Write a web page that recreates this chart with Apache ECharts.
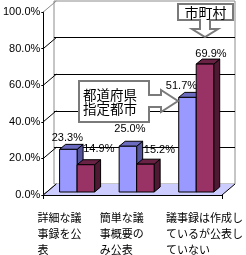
<!DOCTYPE html>
<html><head><meta charset="utf-8">
<script src="https://cdn.jsdelivr.net/npm/echarts@6/dist/echarts.min.js"></script>
<style>html,body{margin:0;padding:0;background:#fff}#c{width:246px;height:255px}</style>
</head><body><div id="c"></div>
<script>
// ---- data ----
const categories = ['詳細な議事録を公表', '簡単な議事概要のみ公表', '議事録は作成しているが公表していない'];
const seriesNames = ['都道府県指定都市', '市町村'];
const prefValues = [23.3, 25.0, 51.7];
const muniValues = [14.9, 15.2, 69.9];
const yTicks = [0, 20, 40, 60, 80, 100];

// ---- layout / style constants ----
const FRONT = {left: 41, top: 12, width: 181, height: 183};
const DEPTH = [13, -11];
const BAR_W = 17.5, BAR_DX = 4, BAR_DY = -3;
const BOX_D = [6, -5];
const WRAP = [4, 4, 7];
const CAT_PAD = [0, 2, 8];
const LABEL_OFF = [
  [[-1, -11], [2, -17], [-6, -11]],
  [[13, -16], [14, -14], [6, -10]]
];
const COLORS = [
  {front: '#9999FF', top: '#6b6bc0', side: '#55559e'},
  {front: '#993366', top: '#6a2244', side: '#4f1833'}
];
const NUM_FONT = '11px "Liberation Sans", Arial, sans-serif';
const JP = '"Noto Sans CJK JP", sans-serif';

function wrap(s, n) {
  const out = [];
  for (let i = 0; i < s.length; i += n) out.push(s.slice(i, i + n));
  return out;
}

function barRender(si) {
  const vals = si === 0 ? prefValues : muniValues;
  return function (params, api) {
    const i = api.value(0), v = api.value(1);
    const top = api.coord([i, v]);
    const base = api.coord([i, 0]);
    const cx = base[0];
    const x = cx + BAR_DX + (si === 0 ? -BAR_W : 0);
    const yT = top[1] + BAR_DY, yB = base[1] + BAR_DY;
    const w = BAR_W, dx = BOX_D[0], dy = BOX_D[1];
    const c = COLORS[si];
    const st = (f) => ({fill: f, stroke: '#000', lineWidth: 1});
    const off = LABEL_OFF[si][i];
    return {
      type: 'group',
      children: [
        {type: 'polygon', shape: {points: [[x + w, yT], [x + w + dx, yT + dy], [x + w + dx, yB + dy], [x + w, yB]]}, style: st(c.side)},
        {type: 'polygon', shape: {points: [[x, yT], [x + w, yT], [x + w + dx, yT + dy], [x + dx, yT + dy]]}, style: st(c.top)},
        {type: 'rect', shape: {x: x, y: yT, width: w, height: yB - yT}, style: st(c.front)},
        {type: 'text', style: {text: vals[i].toFixed(1) + '%', x: x + w / 2 + off[0], y: yT + off[1],
          align: 'center', verticalAlign: 'middle', textAlign: 'center', textVerticalAlign: 'middle',
          font: NUM_FONT, fill: '#000'}}
      ]
    };
  };
}

const chart = echarts.init(document.getElementById('c'), null, {renderer: 'canvas'});

const option = {
  animation: false,
  backgroundColor: '#fff',
  grid: [
    {left: FRONT.left, top: FRONT.top, width: FRONT.width, height: FRONT.height},
    {left: FRONT.left + DEPTH[0], top: FRONT.top + DEPTH[1], width: FRONT.width, height: FRONT.height,
      show: true, borderColor: '#8c8c8c', borderWidth: 1, backgroundColor: '#fff'},
    {left: FRONT.left - 33.5, top: FRONT.top, width: FRONT.width, height: FRONT.height}
  ],
  xAxis: [
    {type: 'category', gridIndex: 0, data: categories, boundaryGap: true,
      axisLine: {lineStyle: {color: '#000', width: 1}},
      axisTick: {show: true, length: 4, lineStyle: {color: '#000'}},
      axisLabel: {show: false}, splitLine: {show: false}},
    {type: 'category', gridIndex: 1, data: categories, show: false},
    {type: 'category', gridIndex: 2, data: categories,
      axisLine: {show: false}, axisTick: {show: false}, splitLine: {show: false},
      axisLabel: {
        show: true, interval: 0, align: 'left', verticalAlign: 'top', margin: 16,
        formatter: function (val, idx) {
          return wrap(val, WRAP[idx]).map(l => '{p' + idx + '|' + l + '}').join('\n');
        },
        rich: {
          p0: {fontSize: 11, fontFamily: JP, color: '#000', lineHeight: 16, padding: [0, 0, 0, CAT_PAD[0]]},
          p1: {fontSize: 11, fontFamily: JP, color: '#000', lineHeight: 16, padding: [0, 0, 0, CAT_PAD[1]]},
          p2: {fontSize: 11, fontFamily: JP, color: '#000', lineHeight: 16, padding: [0, 0, 0, CAT_PAD[2]]}
        }
      }}
  ],
  yAxis: [
    {type: 'value', gridIndex: 0, min: yTicks[0], max: yTicks[yTicks.length - 1], interval: 20,
      axisLine: {show: true, lineStyle: {color: '#000', width: 1}},
      axisTick: {show: true, length: 2, lineStyle: {color: '#000'}},
      axisLabel: {margin: 3, formatter: v => v.toFixed(1) + '%', color: '#000', fontSize: 11,
        fontFamily: '"Liberation Sans", Arial, sans-serif'},
      splitLine: {show: false}},
    {type: 'value', gridIndex: 1, min: yTicks[0], max: yTicks[yTicks.length - 1], interval: 20,
      axisLine: {show: false}, axisTick: {show: false}, axisLabel: {show: false},
      splitLine: {show: true, showMinLine: false, showMaxLine: false, lineStyle: {color: '#000', width: 1}}},
    {type: 'value', gridIndex: 2, min: 0, max: 100, show: false}
  ],
  series: [
    {
      type: 'custom', name: 'walls', xAxisIndex: 0, yAxisIndex: 0, z: 1, silent: true,
      data: yTicks.map(v => [0, v]),
      encode: {x: 0, y: 1},
      renderItem: function (params, api) {
        const v = api.value(1);
        const y = api.coord([0, v])[1];
        const x0 = params.coordSys.x;
        return {type: 'line', shape: {x1: x0, y1: y, x2: x0 + DEPTH[0], y2: y + DEPTH[1]},
          style: {stroke: v === 100 ? '#8c8c8c' : '#000', lineWidth: 1}};
      }
    },
    {
      type: 'custom', name: 'floor', xAxisIndex: 0, yAxisIndex: 0, z: 1, silent: true,
      data: [[0, 0]],
      encode: {x: 0, y: 1},
      renderItem: function (params, api) {
        const cs = params.coordSys;
        const yb = api.coord([0, 0])[1];
        const xl = cs.x, xr = cs.x + cs.width;
        return {type: 'group', children: [
          {type: 'polygon', shape: {points: [[xl, yb], [xr, yb], [xr + DEPTH[0], yb + DEPTH[1]], [xl + DEPTH[0], yb + DEPTH[1]]]},
            style: {fill: '#CCCCFF', stroke: null}},
          {type: 'line', shape: {x1: xr, y1: yb, x2: xr + DEPTH[0], y2: yb + DEPTH[1]}, style: {stroke: '#000', lineWidth: 1}},
          {type: 'line', shape: {x1: xl, y1: yb, x2: xl + DEPTH[0], y2: yb + DEPTH[1]}, style: {stroke: '#000', lineWidth: 1}}
        ]};
      }
    },
    {
      type: 'custom', name: seriesNames[0], xAxisIndex: 0, yAxisIndex: 0, z: 3,
      data: prefValues.map((v, i) => [i, v]), encode: {x: 0, y: 1},
      renderItem: barRender(0)
    },
    {
      type: 'custom', name: seriesNames[1], xAxisIndex: 0, yAxisIndex: 0, z: 4,
      data: muniValues.map((v, i) => [i, v]), encode: {x: 0, y: 1},
      renderItem: barRender(1)
    }
  ],
  graphic: [
    {type: 'polygon', z: 100,
      shape: {points: [[79, 81], [149, 81], [149, 95], [161, 95], [161, 90], [178, 101], [161, 112], [161, 107], [149, 107], [149, 122], [79, 122]]},
      style: {fill: '#fff', stroke: '#7a7a7a', lineWidth: 2}},
    {type: 'text', z: 101,
      style: {text: wrap(seriesNames[0], 4).join('\n'), x: 83, y: 102, align: 'left', verticalAlign: 'middle',
        textAlign: 'left', textVerticalAlign: 'middle', lineHeight: 14, font: '13.5px ' + JP, fill: '#000'}},
    {type: 'polygon', z: 100,
      shape: {points: [[178, 4], [233, 4], [233, 20], [210, 20], [210, 29], [218, 29], [205, 37], [192, 29], [200, 29], [200, 20], [178, 20]]},
      style: {fill: '#fff', stroke: '#7a7a7a', lineWidth: 2}},
    {type: 'text', z: 101,
      style: {text: seriesNames[1], x: 205.5, y: 12.5, align: 'center', verticalAlign: 'middle',
        textAlign: 'center', textVerticalAlign: 'middle', font: '14px ' + JP, fill: '#000'}}
  ]
};
chart.setOption(option);
</script>
</body></html>
